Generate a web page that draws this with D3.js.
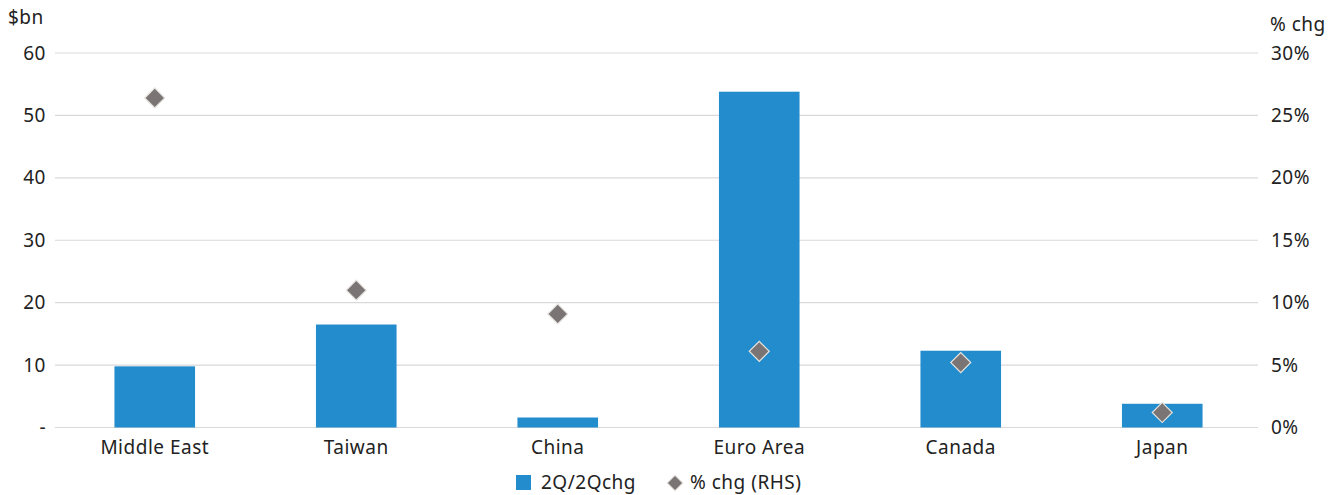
<!DOCTYPE html>
<html><head><meta charset="utf-8">
<script src="https://cdn.jsdelivr.net/npm/d3@7"></script>
<style>body{margin:0;background:#fff}text{font-family:"Noto Sans",Roboto,sans-serif;fill:#222;letter-spacing:0.5px}</style>
</head><body><svg id="c" width="1340" height="495"></svg>
<script>
const categories = ["Middle East","Taiwan","China","Euro Area","Canada","Japan"];
const barValues = [9.8, 16.5, 1.6, 53.8, 12.3, 3.8];
const pctValues = [26.4, 11.0, 9.1, 6.1, 5.2, 1.2];
const leftTicks = [0,10,20,30,40,50,60];
const rightTicks = [0,5,10,15,20,25,30];
const legendLabels = ["2Q/2Qchg","% chg (RHS)"];

const svg = d3.select("#c");
const x = d3.scaleBand().domain(categories).range([54,1263]).paddingInner(0.6).paddingOuter(0.3);
const yL = d3.scaleLinear().domain([0,60]).range([427.5,53]);
const yR = d3.scaleLinear().domain([0,30]).range([427.5,53]);
const FS = 19;

// gridlines
svg.append("g").selectAll("line").data(leftTicks).join("line")
  .attr("x1",55).attr("x2",1258).attr("y1",d=>yL(d)).attr("y2",d=>yL(d))
  .attr("stroke","#d9d9d9").attr("stroke-width",1.2);

// left axis labels
svg.append("g").selectAll("text").data(leftTicks).join("text")
  .attr("x",46).attr("y",d=>yL(d)).attr("dy","0.35em").attr("text-anchor","end")
  .style("font-size",FS+"px").text(d=>d===0?"-":d);
// right axis labels
svg.append("g").selectAll("text").data(rightTicks).join("text")
  .attr("x",1271).attr("y",d=>yR(d)).attr("dy","0.35em").attr("text-anchor","start")
  .style("font-size",FS+"px").text(d=>d+"%");

svg.append("text").attr("x",8).attr("y",24).style("font-size",FS+"px").text("$bn");
svg.append("text").attr("x",1270).attr("y",31).style("font-size",FS+"px").text("% chg");

// bars
svg.append("g").selectAll("rect").data(categories).join("rect")
  .attr("x",d=>x(d)).attr("width",x.bandwidth())
  .attr("y",(d,i)=>yL(barValues[i])).attr("height",(d,i)=>yL(0)-yL(barValues[i]))
  .attr("fill","#238ccc");

// diamonds
const dsym = d3.symbol().type(d3.symbolSquare).size(200);
svg.append("g").selectAll("path").data(categories).join("path")
  .attr("d",dsym)
  .attr("transform",(d,i)=>`translate(${x(d)+x.bandwidth()/2},${yR(pctValues[i])}) rotate(45)`)
  .attr("fill","#7a7574").attr("stroke","#e6e3df").attr("stroke-width",1.2);

// x labels
svg.append("g").selectAll("text").data(categories).join("text")
  .attr("x",d=>x(d)+x.bandwidth()/2).attr("y",454).attr("text-anchor","middle")
  .style("font-size",FS+"px").text(d=>d);

// legend
const lg = svg.append("g");
lg.append("rect").attr("x",516).attr("y",475).attr("width",15).attr("height",15).attr("fill","#238ccc");
lg.append("text").attr("x",541).attr("y",489).style("font-size",FS+"px").text(legendLabels[0]);
lg.append("path").attr("d",d3.symbol().type(d3.symbolSquare).size(120))
  .attr("transform","translate(675,483) rotate(45)").attr("fill","#7a7574").attr("stroke","#e6e3df");
lg.append("text").attr("x",690).attr("y",489).style("font-size",FS+"px").text(legendLabels[1]);
</script></body></html>
